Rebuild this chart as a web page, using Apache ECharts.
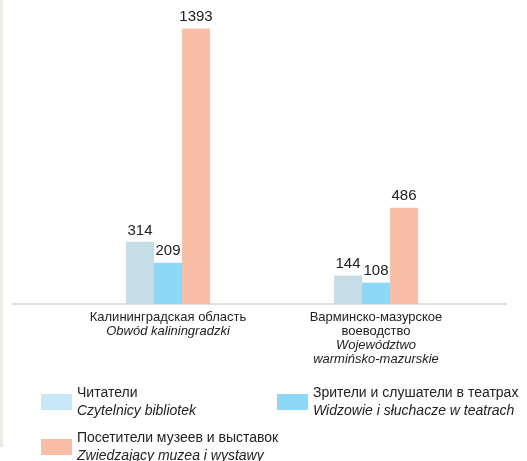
<!DOCTYPE html>
<html>
<head>
<meta charset="utf-8">
<script src="https://cdn.jsdelivr.net/npm/echarts@6/dist/echarts.min.js"></script>
<style>
  html, body { margin: 0; padding: 0; background: #fff; }
  #chart { width: 527px; height: 461px; }
</style>
</head>
<body>
<div id="chart"></div>
<script>
// regions (russian / polish)
var regionsRu = ['Калининградская область', 'Варминско-мазурское\nвоеводство'];
var regionsPl = ['Obwód kaliningradzki', 'Województwo\nwarmińsko-mazurskie'];

// series names
var namesRu = ['Читатели', 'Зрители и слушатели в театрах', 'Посетители музеев и выставок'];
var namesPl = ['Czytelnicy bibliotek', 'Widzowie i słuchacze w teatrach', 'Zwiedzający muzea i wystawy'];

// values, thousands
var readers = [314, 144];
var theatre = [209, 108];
var museums = [1393, 486];

var barColors = ['#c5dee5', '#8ed8f7', '#f8bea8'];
var legendColors = ['#c6e8f8', '#8ed8f7', '#f8bea8'];
var font = 'Liberation Sans, Arial, sans-serif';

function lines(str, tag) {
  return str.split('\n').map(function (s) { return '{' + tag + '|' + s + '}'; }).join('\n');
}

var chart = echarts.init(document.getElementById('chart'));

function mkSeries(i, data) {
  return {
    name: namesRu[i],
    type: 'bar',
    data: data,
    barWidth: 28,
    barGap: 0,
    itemStyle: { color: barColors[i] },
    label: {
      show: true,
      position: 'top',
      distance: 4,
      fontSize: 15,
      color: '#222',
      fontFamily: font
    }
  };
}

function mkLegend(i, left, top) {
  return {
    left: left,
    top: top,
    itemWidth: 31,
    itemHeight: 16,
    icon: 'rect',
    data: [{ name: namesRu[i], itemStyle: { color: legendColors[i] } }],
    formatter: function (name) {
      var k = namesRu.indexOf(name);
      return '{r|' + namesRu[k] + '}\n{p|' + namesPl[k] + '}';
    },
    textStyle: {
      fontFamily: font,
      rich: {
        r: { fontSize: 14, color: '#222', lineHeight: 18, fontFamily: font },
        p: { fontSize: 14, color: '#222', lineHeight: 18, fontStyle: 'italic', fontFamily: font }
      }
    }
  };
}

chart.setOption({
  animation: false,
  grid: { left: 64, right: 47, top: 27, bottom: 157 },
  xAxis: {
    type: 'category',
    data: regionsRu,
    axisLine: { show: false },
    axisTick: { show: false },
    axisLabel: {
      margin: 6,
      interval: 0,
      formatter: function (v, idx) {
        return lines(regionsRu[idx], 'r') + '\n' + lines(regionsPl[idx], 'p');
      },
      rich: {
        r: { fontSize: 13, color: '#222', lineHeight: 14, fontFamily: font },
        p: { fontSize: 13, color: '#222', lineHeight: 14, fontStyle: 'italic', fontFamily: font }
      }
    }
  },
  yAxis: {
    type: 'value',
    min: 0,
    max: 1400,
    show: false
  },
  legend: [
    mkLegend(0, 36, 381),
    mkLegend(1, 272, 381),
    mkLegend(2, 36, 426)
  ],
  series: [
    mkSeries(0, readers),
    mkSeries(1, theatre),
    mkSeries(2, museums)
  ],
  graphic: [
    { type: 'rect', shape: { x: 0, y: 0, width: 3, height: 447 }, style: { fill: '#eeebe6' } },
    { type: 'line', shape: { x1: 12, y1: 304, x2: 507, y2: 304 }, style: { stroke: '#d4d4d4', lineWidth: 1.5 } }
  ]
});
</script>
</body>
</html>
